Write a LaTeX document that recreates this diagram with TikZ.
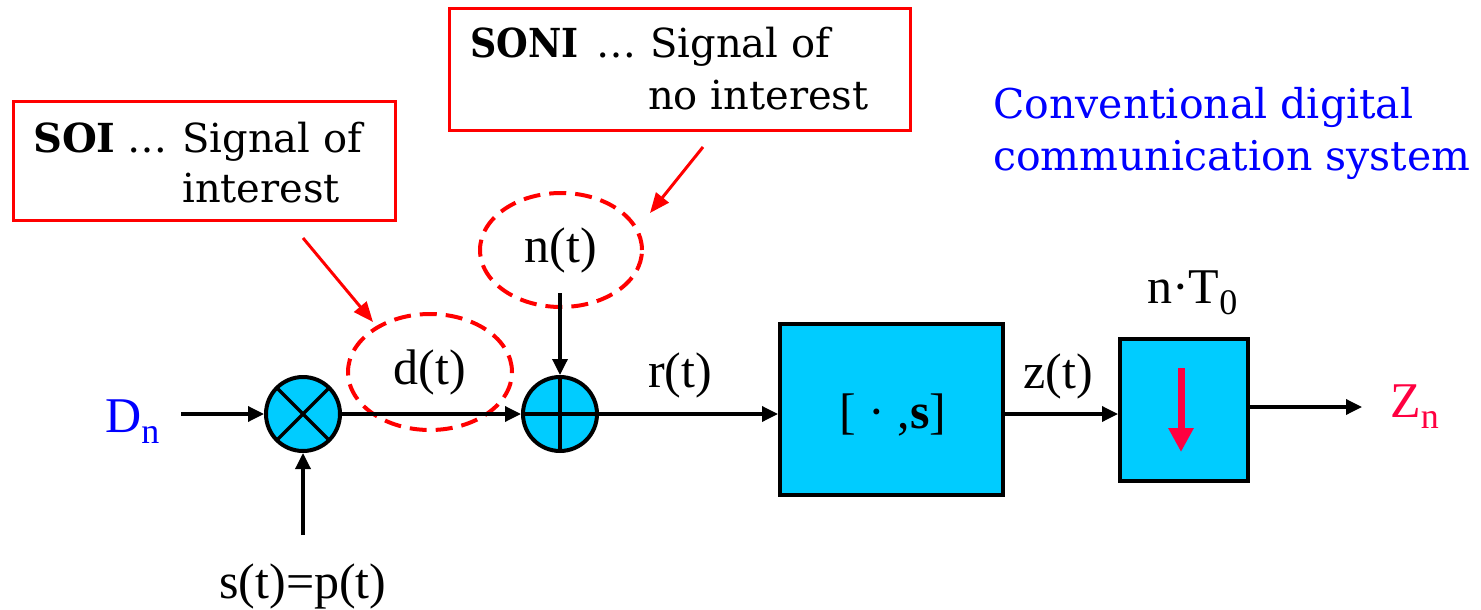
\documentclass[tikz,border=0pt]{standalone}
\usepackage{fontspec}
\setmainfont{Liberation Serif}
\newfontfamily\bkfont{DejaVu Serif}
\usetikzlibrary{arrows.meta,shapes.geometric,calc}
\definecolor{boxcyan}{RGB}{0,204,255}
\definecolor{crim}{RGB}{255,0,64}
\definecolor{rred}{RGB}{255,0,0}
\definecolor{bblue}{RGB}{0,0,255}
\newcommand{\mysub}[1]{\raisebox{-0.22em}{\fontsize{36}{36}\selectfont #1}}
\begin{document}
\begin{tikzpicture}[x=1pt,y=-1pt,
  lab/.style={font=\fontsize{50}{55}\selectfont, inner sep=0},
  arr/.style={line width=3.4pt, -{Triangle[length=16pt,width=15pt]}},
  callarr/.style={rred, line width=3pt, -{Triangle[length=20pt,width=16pt]}},
  callbox/.style={draw=rred, line width=3.3pt, inner sep=0},
  ctext/.style={font=\bkfont\fontsize{40}{50}\selectfont, inner sep=0, anchor=base west},
  ttext/.style={font=\bkfont\fontsize{41}{52}\selectfont, text=bblue, inner sep=0, anchor=base west},
  dell/.style={ellipse, draw=rred, dash pattern=on 17pt off 9pt, line width=4pt, inner sep=0},
  op/.style={circle, draw, fill=boxcyan, line width=4pt, minimum size=74pt, inner sep=0},
  blk/.style={draw, fill=boxcyan, line width=4pt, inner sep=0},
]
\useasboundingbox (0,0) rectangle (1481,610);

% callout boxes and texts
\node[callbox, minimum width=382pt, minimum height=119pt] (soibox) at (204.5,161) {};
\node[ctext] (soil) at (33,152) {\textbf{SOI}};
\node[ctext] (soidots) at (127,152) {…};
\node[ctext] (soi1) at (182,152) {Signal of};
\node[ctext] (soi2) at (182,202) {interest};

\node[callbox, minimum width=461pt, minimum height=122pt] (sonibox) at (680,69.5) {};
\node[ctext] (sonil) at (470,58) {\scalebox{0.91}[1]{\textbf{SONI}}};
\node[ctext] (sonidots) at (596,58) {…};
\node[ctext] (soni1) at (650,58) {Signal of};
\node[ctext] (soni2) at (648,110) {no interest};

\node[ttext] (title1) at (993,118) {Conventional digital};
\node[ttext] (title2) at (993,170) {communication system};

% operators
\node[op, path picture={
    \draw[line width=3.5pt] (path picture bounding box.north west) -- (path picture bounding box.south east);
    \draw[line width=3.5pt] (path picture bounding box.north east) -- (path picture bounding box.south west);
  }] (mul) at (303,414) {};
\node[op, path picture={
    \draw[line width=3.5pt] (path picture bounding box.north) -- (path picture bounding box.south);
    \draw[line width=3.5pt] (path picture bounding box.west) -- (path picture bounding box.east);
  }] (add) at (560,414) {};

% dashed ellipses
\node[dell, lab, minimum width=164pt, minimum height=116pt] (dn) at (430,372) {d(t)};
\node[dell, lab, minimum width=162pt, minimum height=114pt] (nn) at (561,250) {n(t)};

% blocks
\node[blk, minimum width=223pt, minimum height=171pt] (filt) at (891.5,409.5) {};
\node[lab] (filttext) at (893,415) {[ · ,\textbf{s}]};
\node[blk, minimum width=128pt, minimum height=142pt] (samp) at (1184,410) {};
\draw[crim, line width=7pt, -{Triangle[length=24pt,width=24pt]}]
  ($(samp.center)+(-3,-42)$) -- ($(samp.center)+(-3,42)$);

% labels
\node[lab, anchor=base] (rt) at (680,387) {r(t)};
\node[lab, anchor=base] (zt) at (1058,388) {z(t)};
\node[lab, anchor=base west] (nT) at (1147,303) {n·T\mysub{0}};
\node[lab, anchor=base west, text=bblue] (Dn) at (105,432) {D\mysub{n}};
\node[lab, anchor=base west, text=crim] (Zn) at (1390,417) {Z\mysub{n}};
\node[lab, anchor=base] (spt) at (303,598) {s(t)=p(t)};

% connectors
\coordinate (dstart) at (181,414);
\draw[arr] (dstart) -- (mul.west);
\coordinate (sstart) at (303,535);
\draw[arr] (sstart) -- (mul.south);
\draw[arr] (mul.east) -- (add.west);
\coordinate (nstart) at (560,293);
\draw[arr] (nstart) -- (add.north);
\draw[arr] (add.east) -- (add.east -| filt.west);
\draw[arr] (filt.east |- add.east) -- (samp.west |- add.east);
\coordinate (zend) at (1362,407);
\draw[arr] (samp.east |- zend) -- (zend);

% callout arrows
\coordinate (soiA) at (303,238);
\coordinate (soiB) at (373,322);
\draw[callarr] (soiA) -- (soiB);
\coordinate (soniA) at (703,147);
\coordinate (soniB) at (650,213);
\draw[callarr] (soniA) -- (soniB);
\end{tikzpicture}
\end{document}
